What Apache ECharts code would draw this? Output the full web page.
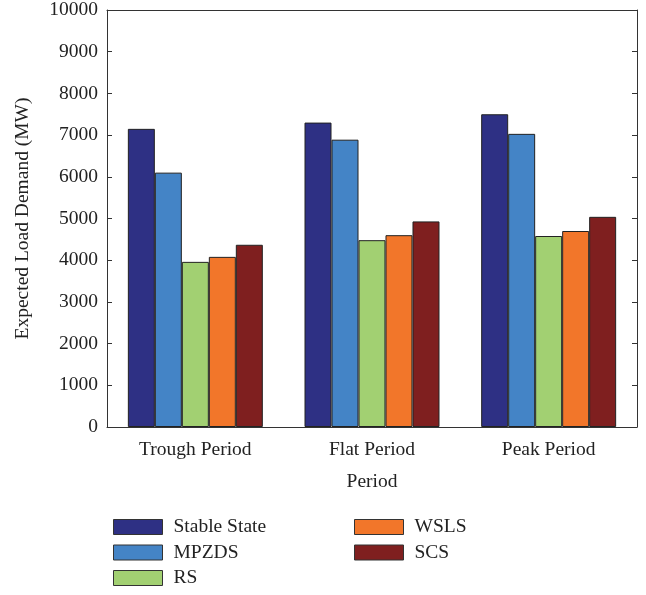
<!DOCTYPE html>
<html>
<head>
<meta charset="utf-8">
<script src="https://cdn.jsdelivr.net/npm/echarts@6/dist/echarts.min.js"></script>
<style>html,body{margin:0;padding:0;background:#fff}#c{width:646px;height:595px}</style>
</head>
<body>
<div id="c"></div>
<script>
var categories = ['Trough Period', 'Flat Period', 'Peak Period'];
var seriesNames = ['Stable State', 'MPZDS', 'RS', 'WSLS', 'SCS'];
var stableState = [7150, 7300, 7500];
var mpzds = [6100, 6890, 7030];
var rs = [3960, 4480, 4580];
var wsls = [4080, 4600, 4700];
var scs = [4370, 4930, 5040];
var colors = ['#2E3084', '#4484C6', '#A2D072', '#F2762A', '#7F1F1F'];
var yTicks = [0, 1000, 2000, 3000, 4000, 5000, 6000, 7000, 8000, 9000, 10000];

var FONT = 'Liberation Serif';
var FS = 19.5;
var allData = [stableState, mpzds, rs, wsls, scs];
var chart = echarts.init(document.getElementById('c'));
var series = seriesNames.map(function (n, i) {
  return {
    name: n, type: 'bar', data: allData[i],
    barGap: '0%', barCategoryGap: '23.6%',
    itemStyle: { color: colors[i], borderColor: '#222', borderWidth: 1 },
    xAxisIndex: 0, yAxisIndex: 0
  };
});
function legendCfg(names, left) {
  return { data: names, orient: 'vertical', left: left, top: 512, height: 90,
    itemWidth: 49, itemHeight: 15, itemGap: 5.5, icon: 'rect',
    textStyle: { fontFamily: FONT, fontSize: FS, color: '#222', padding: [0, 0, 0, 6] },
    itemStyle: { borderColor: '#333', borderWidth: 1 } };
}
chart.setOption({
  animation: false,
  textStyle: { fontFamily: FONT },
  grid: { left: 107, right: 9, top: 10, bottom: 168, containLabel: false },
  legend: [legendCfg(seriesNames.slice(0, 3), 108), legendCfg(seriesNames.slice(3), 349)],
  xAxis: [
    { type: 'category', data: categories, position: 'bottom',
      name: 'Period', nameLocation: 'middle', nameGap: 45,
      nameTextStyle: { fontFamily: FONT, fontSize: FS, color: '#222' },
      axisLine: { lineStyle: { color: '#333', width: 1 } },
      axisTick: { show: false },
      axisLabel: { fontFamily: FONT, fontSize: FS, color: '#222', margin: 13 } },
    { type: 'category', data: categories, position: 'top',
      axisLine: { onZero: false, lineStyle: { color: '#333', width: 1 } },
      axisTick: { show: false }, axisLabel: { show: false } }
  ],
  yAxis: [
    { type: 'value', min: 0, max: 10000, interval: 1000, position: 'left',
      name: 'Expected Load Demand (MW)', nameLocation: 'middle', nameGap: 74,
      nameTextStyle: { fontFamily: FONT, fontSize: FS, color: '#222' },
      axisLine: { show: true, lineStyle: { color: '#333', width: 1 } },
      axisTick: { show: true, inside: true, length: 5, lineStyle: { color: '#333' } },
      splitLine: { show: false },
      axisLabel: { fontFamily: FONT, fontSize: FS, color: '#222', margin: 9,
        formatter: function (v) { return yTicks.indexOf(v) >= 0 ? String(v) : ''; } } },
    { type: 'value', min: 0, max: 10000, interval: 1000, position: 'right',
      axisLine: { show: true, onZero: false, lineStyle: { color: '#333', width: 1 } },
      axisTick: { show: true, inside: true, length: 5, lineStyle: { color: '#333' } },
      splitLine: { show: false }, axisLabel: { show: false } }
  ],
  series: series
});
</script>
</body>
</html>
